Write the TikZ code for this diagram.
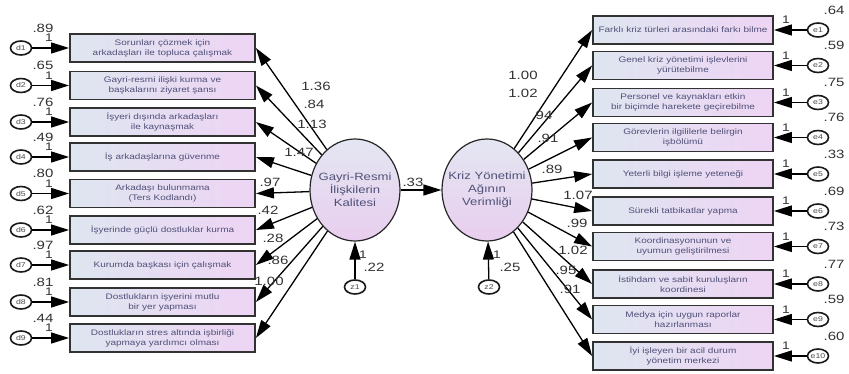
\documentclass[tikz,border=0pt]{standalone}
\usepackage{fontspec}
\setmainfont[FakeStretch=1.25]{Liberation Sans}
\usetikzlibrary{arrows.meta,shapes.geometric}
\definecolor{boxL}{RGB}{222,230,240}
\definecolor{boxR}{RGB}{238,212,244}
\definecolor{latT}{RGB}{228,230,242}
\definecolor{latB}{RGB}{232,206,238}
\definecolor{txt}{RGB}{80,80,120}
\definecolor{numc}{RGB}{50,50,50}
\definecolor{frame}{RGB}{50,50,50}
\begin{document}
\begin{tikzpicture}[x=1pt,y=-1pt,
  ind/.style={rectangle, draw=frame, line width=1.8pt, left color=boxL, right color=boxR, minimum height=28pt, inner sep=1pt, align=center, text=txt, font=\fontsize{8}{10}\selectfont},
  lind/.style={ind, minimum width=185pt},
  rind/.style={ind, minimum width=180pt},
  lat/.style={ellipse, draw=black!85, line width=1.2pt, top color=latT, bottom color=latB, minimum width=90pt, minimum height=102pt, inner sep=0pt},
  lattext/.style={align=center, text=txt, inner sep=0pt, font=\fontsize{10.5}{13}\selectfont},
  err/.style={ellipse, draw=black!90, line width=1.6pt, fill=white, minimum width=21pt, minimum height=14pt, inner sep=0pt, font=\fontsize{7}{7}\selectfont, text=black!70},
  arr/.style={line width=1.3pt, -{Triangle[length=18pt,width=11pt]}},
  num/.style={inner sep=0pt, text=numc, font=\fontsize{12}{12}\selectfont},
  one/.style={inner sep=0pt, text=numc, font=\fontsize{11}{11}\selectfont}
]
\useasboundingbox (0,0) rectangle (849,374);

% latent variables
\node[lat] (L) at (355,190) {};
\node[lattext] (Lt) at (L) {Gayri-Resmi\\İlişkilerin\\Kalitesi};
\node[lat] (R) at (487,190) {};
\node[lattext] (Rt) at (R) {Kriz Yönetimi\\Ağının\\Verimliği};

% left indicators
\node[lind] (b1) at (162.5,48) {Sorunları çözmek için\\arkadaşları ile topluca çalışmak};
\node[lind] (b2) at (162.5,85.5) {Gayri-resmi ilişki kurma ve\\başkalarını ziyaret şansı};
\node[lind] (b3) at (162.5,122) {İşyeri dışında arkadaşları\\ile kaynaşmak};
\node[lind] (b4) at (162.5,157) {İş arkadaşlarına güvenme};
\node[lind] (b5) at (162.5,193.5) {Arkadaşı bulunmama\\(Ters Kodlandı)};
\node[lind] (b6) at (162.5,230) {İşyerinde güçlü dostluklar kurma};
\node[lind] (b7) at (162.5,265) {Kurumda başkası için çalışmak};
\node[lind] (b8) at (162.5,302) {Dostlukların işyerini mutlu\\bir yer yapması};
\node[lind] (b9) at (162.5,338) {Dostlukların stres altında işbirliği\\yapmaya yardımcı olması};

% left errors
\foreach \i/\y/\v in {1/48/.89,2/85.5/.65,3/122/.76,4/157/.49,5/193.5/.80,6/230/.62,7/265/.97,8/302/.81,9/338/.44}{
  \node[err] (d\i) at (21,\y) {d\i};
  \draw[arr] (d\i) -- (b\i);
  \node[num] (dv\i) at (43,\y-20) {\v};
  \node[one] (do\i) at (49,\y-10) {1};
}

% right indicators
\node[rind] (r1) at (683,30) {Farklı kriz türleri arasındaki farkı bilme};
\node[rind] (r2) at (683,65.5) {Genel kriz yönetimi işlevlerini\\yürütebilme};
\node[rind] (r3) at (683,102.5) {Personel ve kaynakları etkin\\bir biçimde harekete geçirebilme};
\node[rind] (r4) at (683,137.5) {Görevlerin ilgililerle belirgin\\işbölümü};
\node[rind] (r5) at (683,174) {Yeterli bilgi işleme yeteneği};
\node[rind] (r6) at (683,211) {Sürekli tatbikatlar yapma};
\node[rind] (r7) at (683,246.5) {Koordinasyonunun ve\\uyumun geliştirilmesi};
\node[rind] (r8) at (683,284) {İstihdam ve sabit kuruluşların\\koordinesi};
\node[rind] (r9) at (683,319.5) {Medya için uygun raporlar\\hazırlanması};
\node[rind] (r10) at (683,356) {İyi işleyen bir acil durum\\yönetim merkezi};

% right errors
\foreach \i/\y/\v in {1/30/.64,2/65.5/.59,3/102.5/.75,4/137.5/.76,5/174/.33,6/211/.69,7/246.5/.73,8/284/.77,9/319.5/.59,10/356/.60}{
  \node[err] (e\i) at (818,\y) {e\i};
  \draw[arr] (e\i) -- (r\i);
  \node[num] (ev\i) at (834,\y-20) {\v};
  \node[one] (eo\i) at (786,\y-10) {1};
}

% loadings
\foreach \i in {1,...,9}{ \draw[arr] (L) -- (b\i.east); }
\foreach \i in {1,...,10}{ \draw[arr] (R) -- (r\i.west); }

% structural path
\draw[arr] (L) -- (R);
\node[num] (p33) at (413,182) {.33};

% disturbances
\node[err] (z1) at (355,287) {z1};
\node[err] (z2) at (489,287) {z2};
\draw[arr] (z1) -- (L);
\draw[arr] (z2) -- (R);
\node[one] (z1o) at (363,255) {1};
\node[num] (z1v) at (374,267) {.22};
\node[one] (z2o) at (497,255) {1};
\node[num] (z2v) at (510,267) {.25};

% left loading labels
\node[num] at (316,86) {1.36};
\node[num] at (314,104) {.84};
\node[num] at (312,124) {1.13};
\node[num] at (299,152) {1.47};
\node[num] at (270,182) {.97};
\node[num] at (268,210) {.42};
\node[num] at (273,238) {.28};
\node[num] at (278,260) {.86};
\node[num] at (269,281) {1.00};

% right loading labels
\node[num] at (523,75) {1.00};
\node[num] at (523,93) {1.02};
\node[num] at (542,115) {.94};
\node[num] at (548,138) {.91};
\node[num] at (552,169) {.89};
\node[num] at (578,195) {1.07};
\node[num] at (577,223) {.99};
\node[num] at (573,250) {1.02};
\node[num] at (566,270) {.95};
\node[num] at (570,289) {.91};
\end{tikzpicture}
\end{document}
